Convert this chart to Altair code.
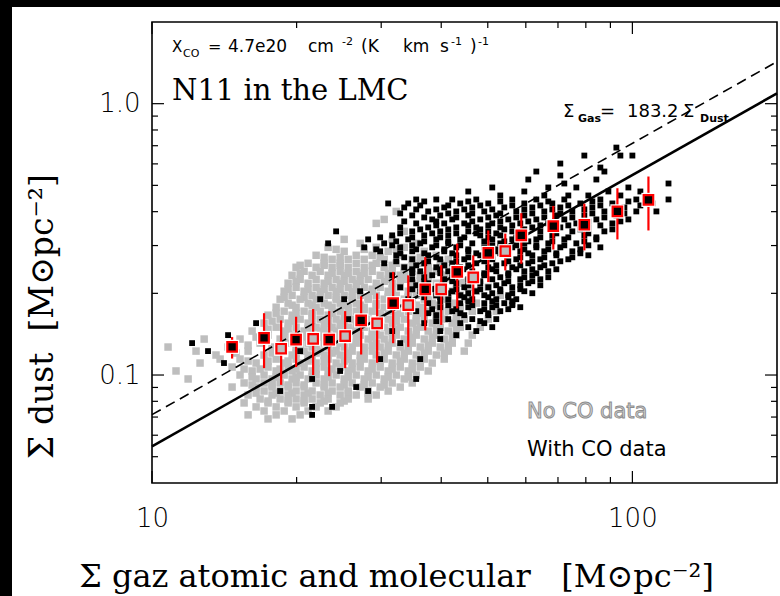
import altair as alt
import pandas as pd

# ---------------- data ----------------
GAS_TO_DUST = 183.2          # solid line: Sigma_gas = 183.2 Sigma_dust
GAS_TO_DUST_DASHED = 140.0   # dashed reference line
line_gas = [10.0, 200.0]

# scatter: pixels without CO data (grey); rows of (dust, [gas values])
grey_rows = [
    (0.4008, [32.24]),
    (0.3745, [30.43]),
    (0.3621, [29.29]),
    (0.3384, [33.50]),
    (0.3162, [25.12, 31.62]),
    (0.3057, [27.12, 35.48]),
    (0.2955, [23.26, 29.29, 33.50]),
    (0.2905, [24.17, 27.65, 32.24]),
    (0.2857, [25.12, 31.02, 36.87]),
    (0.2762, [21.96, 26.61, 28.73, 32.86, 39.06]),
    (0.2715, [22.82, 24.64, 29.85, 36.17]),
    (0.2670, [23.71, 25.61, 27.65, 30.43, 34.81, 41.37]),
    (0.2581, [21.13, 22.82, 24.64, 26.61, 29.29, 32.24, 36.17, 39.81]),
    (0.2537, [20.34, 22.82, 24.64, 28.73, 31.62, 34.81, 40.58]),
    (0.2495, [19.95, 21.96, 23.71, 25.61, 27.65, 30.43, 33.50, 37.58, 42.17]),
    (0.2412, [20.73, 22.39, 24.64, 26.61, 28.73, 31.62, 34.81, 39.06, 43.82]),
    (0.2372, [20.34, 23.71, 25.61, 27.65, 31.02, 33.50, 37.58, 42.17]),
    (0.2332, [19.57, 21.54, 23.26, 25.12, 27.12, 29.85, 32.86, 36.17, 40.58]),
    (0.2254, [20.34, 21.96, 24.17, 26.10, 28.18, 31.02, 33.50, 37.58, 42.17, 46.42]),
    (0.2216, [19.95, 23.26, 25.12, 27.12, 30.43, 32.86, 36.17, 40.58, 44.67]),
    (0.2179, [19.20, 21.13, 22.82, 24.64, 26.61, 29.29, 31.62, 34.81, 39.06, 43.82]),
    (0.2106, [19.95, 21.96, 23.71, 25.61, 27.65, 29.85, 32.86, 36.17, 40.58, 45.54, 50.12]),
    (0.2071, [19.20, 21.13, 22.82, 24.64, 26.61, 28.73, 31.62, 34.81, 39.06, 42.99]),
    (0.2036, [18.84, 20.73, 22.39, 24.17, 26.10, 28.73, 31.02, 34.15, 37.58, 42.17, 47.32]),
    (0.1968, [19.57, 21.54, 23.26, 25.12, 27.12, 29.29, 32.24, 35.48, 39.06, 43.82, 53.09]),
    (0.1935, [18.84, 20.73, 22.39, 24.17, 26.10, 28.18, 31.02, 34.15, 37.58, 41.37]),
    (0.1903, [18.48, 20.34, 21.96, 24.17, 26.10, 28.18, 30.43, 33.50, 36.87, 40.58, 45.54]),
    (0.1840, [19.20, 21.13, 22.82, 24.64, 26.61, 29.29, 31.62, 34.81, 38.31, 42.17, 47.32, 56.23]),
    (0.1809, [19.57, 21.54, 23.26, 25.12, 27.12, 29.29, 32.24, 35.48, 39.06, 42.99]),
    (0.1778, [18.13, 19.95, 21.96, 23.71, 25.61, 27.65, 30.43, 32.86, 36.17, 39.81, 43.82]),
    (0.1719, [18.84, 20.73, 22.39, 24.64, 26.61, 28.73, 31.02, 34.15, 37.58, 41.37, 46.42, 52.08]),
    (0.1690, [18.13, 19.95, 21.54, 23.71, 25.61, 27.65, 29.85, 32.86, 36.17, 39.81, 43.82]),
    (0.1662, [17.44, 19.57, 21.54, 23.26, 25.12, 27.12, 29.85, 32.24, 35.48, 39.06, 42.99]),
    (0.1607, [18.48, 20.34, 22.39, 24.17, 26.10, 28.18, 31.02, 33.50, 36.87, 40.58, 44.67, 50.12]),
    (0.1580, [17.78, 19.57, 21.54, 23.26, 25.12, 27.12, 29.85, 32.24, 35.48, 39.06, 42.99]),
    (0.1553, [17.11, 19.20, 21.13, 22.82, 24.64, 26.61, 29.29, 31.62, 34.81, 38.31, 42.17]),
    (0.1501, [18.13, 19.95, 21.96, 23.71, 25.61, 27.65, 30.43, 32.86, 36.17, 39.81, 43.82, 48.23]),
    (0.1476, [17.44, 19.20, 21.13, 22.82, 24.64, 26.61, 29.29, 32.24, 35.48, 39.06, 42.99]),
    (0.1452, [16.16, 18.84, 20.73, 22.39, 24.17, 26.10, 28.73, 31.02, 34.15, 37.58, 41.37]),
    (0.1403, [17.44, 19.57, 21.54, 23.26, 25.12, 27.12, 29.85, 32.24, 35.48, 39.06, 42.99, 46.42]),
    (0.1380, [16.47, 18.84, 20.73, 22.39, 24.17, 26.61, 28.73, 31.62, 34.81, 38.31, 42.17]),
    (0.1357, [12.84, 15.25, 18.48, 20.34, 21.96, 23.71, 25.61, 28.18, 30.43, 33.50, 36.87, 40.58]),
    (0.1311, [16.79, 19.20, 21.13, 22.82, 24.64, 26.61, 29.29, 31.62, 34.81, 38.31, 42.17, 45.54]),
    (0.1289, [15.85, 18.48, 20.34, 21.96, 24.17, 26.10, 28.73, 31.02, 34.15, 37.58, 41.37]),
    (0.1268, [10.80, 14.40, 17.78, 19.95, 21.54, 23.26, 25.12, 27.65, 29.85, 32.86, 36.17, 39.81]),
    (0.1225, [12.35, 15.85, 18.84, 20.73, 22.39, 24.17, 26.10, 28.73, 31.02, 34.15, 37.58, 41.37, 44.67]),
    (0.1205, [14.96, 17.78, 19.95, 21.96, 23.71, 25.61, 27.65, 30.43, 33.50, 36.87, 40.58]),
    (0.1185, [13.59, 17.11, 19.57, 21.13, 22.82, 24.64, 27.12, 29.29, 32.24, 35.48, 39.06]),
    (0.1145, [13.86, 15.25, 18.13, 19.95, 21.54, 23.26, 25.61, 27.65, 30.43, 33.50, 36.87, 40.58]),
    (0.1126, [15.85, 17.44, 19.20, 21.13, 22.82, 25.12, 27.12, 29.85, 32.86, 36.17]),
    (0.1107, [12.59, 16.47, 18.84, 20.34, 21.96, 24.17, 26.10, 28.73, 31.62, 34.81, 38.31]),
    (0.1070, [14.68, 17.44, 19.20, 20.73, 22.82, 24.64, 27.12, 29.85, 32.86, 36.17]),
    (0.1052, [15.55, 16.79, 18.48, 19.95, 21.96, 23.71, 26.10, 28.73, 31.62, 34.81]),
    (0.1035, [11.22, 16.16, 18.13, 19.57, 21.54, 23.26, 25.61, 28.18, 31.02, 34.15, 37.58]),
    (0.1000, [15.25, 17.11, 18.84, 20.34, 21.96, 24.17, 26.61, 29.29, 32.24, 35.48]),
    (0.0983, [16.16, 18.13, 19.95, 21.54, 23.26, 25.61, 28.18, 31.02, 34.15]),
    (0.0967, [11.89, 16.47, 17.78, 19.57, 21.13, 22.82, 25.12, 27.65, 30.43, 33.50]),
    (0.0935, [15.55, 17.11, 18.48, 19.95, 21.96, 23.71, 26.10, 28.73, 31.62, 34.81]),
    (0.0919, [16.16, 17.78, 19.20, 20.73, 22.82, 25.12, 27.65, 30.43]),
    (0.0903, [14.68, 16.47, 17.78, 19.20, 20.73, 22.82, 24.64, 27.12, 29.85, 32.86]),
    (0.0873, [17.11, 18.48, 19.95, 21.54, 23.71, 25.61, 28.18, 31.02]),
    (0.0858, [16.47, 18.13, 19.57, 21.13, 23.26, 25.61, 28.18]),
    (0.0844, [15.85, 17.78, 19.20, 20.73, 22.39, 24.64, 26.61, 29.29]),
    (0.0816, [16.79, 18.48, 19.95, 21.54, 23.26, 25.61, 28.18]),
    (0.0802, [17.44, 19.20, 20.73, 22.82, 25.12]),
    (0.0789, [15.55, 17.44, 19.20, 20.73, 22.39, 24.64]),
    (0.0763, [16.47, 18.13, 19.95, 21.96, 24.17]),
    (0.0737, [17.11, 18.84, 21.13, 23.26]),
    (0.0713, [15.85, 18.13, 20.34]),
    (0.0689, [17.44, 19.57]),
]

# scatter: pixels with CO data (black); rows of (dust, [gas values])
black_rows = [
    (0.6890, [92.61]),
    (0.6439, [79.43, 94.41, 100.0]),
    (0.6017, [70.79]),
    (0.5817, [85.77]),
    (0.5623, [63.10, 87.44]),
    (0.5436, [70.79]),
    (0.5255, [60.72, 84.14]),
    (0.5080, [72.16, 118.9]),
    (0.4911, [51.09, 66.83, 76.44, 98.10]),
    (0.4747, [45.54, 59.57, 89.13, 103.9]),
    (0.4589, [53.09, 65.56, 73.56, 80.97, 94.41]),
    (0.4436, [35.48, 39.06, 42.17, 47.32, 56.23, 63.10, 72.16, 85.77, 101.9, 118.9]),
    (0.4362, [36.87, 45.54, 53.09, 66.83, 82.54, 98.10]),
    (0.4289, [31.02, 34.15, 43.82, 50.12, 59.57, 68.13, 77.92, 90.85, 110.1]),
    (0.4217, [36.17, 41.37, 48.23, 56.23, 64.32, 73.56, 85.77, 103.9]),
    (0.4146, [33.50, 40.58, 46.42, 54.12, 61.90, 70.79, 82.54, 96.24]),
    (0.4077, [35.48, 39.06, 44.67, 51.09, 59.57, 68.13, 79.43, 92.61]),
    (0.4008, [37.58, 42.99, 49.17, 57.32, 65.56, 74.99, 87.44, 101.9, 112.2]),
    (0.3941, [32.86, 41.37, 46.42, 53.09, 61.90, 70.79, 82.54, 96.24]),
    (0.3874, [34.81, 39.81, 45.54, 52.08, 59.57, 69.45, 79.43, 92.61]),
    (0.3809, [36.87, 42.99, 50.12, 57.32, 65.56, 74.99, 87.44]),
    (0.3745, [38.31, 42.17, 48.23, 55.17, 63.10, 72.16, 84.14, 98.10]),
    (0.3683, [33.50, 39.06, 46.42, 53.09, 60.72, 69.45, 80.97, 94.41]),
    (0.3621, [35.48, 40.58, 44.67, 51.09, 58.43, 66.83, 76.44, 90.85]),
    (0.3560, [39.06, 45.54, 50.12, 56.23, 64.32, 73.56, 85.77]),
    (0.3500, [32.86, 37.58, 42.99, 47.32, 53.09, 61.90, 70.79, 80.97]),
    (0.3442, [36.17, 41.37, 48.23, 54.12, 59.57, 68.13, 77.92, 90.85]),
    (0.3384, [24.17, 34.81, 39.81, 45.54, 50.12, 56.23, 64.32, 74.99, 87.44]),
    (0.3327, [32.86, 38.31, 42.99, 47.32, 52.08, 59.57, 69.45, 80.97]),
    (0.3271, [31.62, 36.87, 41.37, 48.23, 53.09, 59.57, 68.13, 79.43]),
    (0.3216, [29.85, 34.81, 39.81, 44.67, 50.12, 57.32, 64.32, 73.56, 84.14]),
    (0.3162, [28.18, 34.15, 39.06, 43.82, 51.09, 56.23, 63.10, 72.16, 84.14]),
    (0.3109, [32.24, 36.87, 41.37, 49.17, 54.12, 60.72, 68.13, 79.43]),
    (0.3057, [23.26, 30.43, 36.17, 41.37, 46.42, 53.09, 59.57, 66.83, 76.44]),
    (0.3006, [31.62, 34.81, 39.06, 43.82, 51.09, 57.32, 63.10, 72.16, 80.97]),
    (0.2955, [27.65, 32.86, 38.31, 42.99, 49.17, 56.23, 63.10, 70.79, 85.77]),
    (0.2905, [29.29, 35.48, 40.58, 45.54, 52.08, 59.57, 66.83, 77.92]),
    (0.2857, [29.85, 34.81, 40.58, 45.54, 52.08, 58.43, 65.56, 74.99]),
    (0.2809, [32.86, 36.87, 42.17, 47.32, 53.09, 60.72, 69.45, 77.92]),
    (0.2762, [32.24, 37.58, 42.99, 48.23, 55.17, 61.90, 69.45, 80.97]),
    (0.2715, [33.50, 39.06, 45.54, 51.09, 58.43, 65.56, 74.99]),
    (0.2670, [34.81, 39.81, 44.67, 51.09, 57.32, 64.32, 73.56]),
    (0.2625, [32.24, 37.58, 42.99, 49.17, 55.17, 61.90, 70.79]),
    (0.2581, [30.43, 36.87, 42.17, 47.32, 54.12, 60.72, 68.13]),
    (0.2537, [35.48, 40.58, 45.54, 52.08, 58.43, 65.56]),
    (0.2495, [33.50, 39.06, 43.82, 50.12, 56.23, 64.32]),
    (0.2453, [34.81, 39.81, 44.67, 51.09, 57.32, 61.90, 69.45]),
    (0.2412, [36.17, 41.37, 46.42, 52.08, 59.57, 66.83]),
    (0.2372, [34.81, 39.81, 43.82, 49.17, 55.17, 63.10]),
    (0.2332, [31.62, 38.31, 43.82, 49.17, 55.17, 61.90]),
    (0.2293, [36.87, 42.17, 47.32, 53.09, 59.57, 66.83]),
    (0.2254, [34.81, 40.58, 45.54, 51.09, 58.43, 64.32]),
    (0.2216, [36.87, 42.17, 48.23, 55.17, 61.90]),
    (0.2179, [37.58, 42.99, 48.23, 54.12, 60.72]),
    (0.2142, [35.48, 40.58, 45.54, 52.08, 58.43, 64.32]),
    (0.2106, [32.86, 39.81, 44.67, 50.12, 56.23]),
    (0.2071, [34.81, 38.31, 42.99, 48.23, 53.09, 58.43]),
    (0.2036, [27.12, 36.17, 42.17, 47.32, 53.09, 59.57]),
    (0.2002, [37.58, 41.37, 45.54, 51.09, 56.23, 61.90]),
    (0.1968, [39.06, 43.82, 49.17, 55.17]),
    (0.1935, [36.87, 39.81, 44.67, 50.12, 55.17]),
    (0.1903, [22.39, 25.12, 34.15, 41.37, 46.42, 52.08, 57.32]),
    (0.1871, [39.81, 45.54, 51.09, 56.23]),
    (0.1840, [37.58, 43.82, 49.17, 54.12]),
    (0.1809, [41.37, 46.42, 52.08, 56.23]),
    (0.1778, [39.81, 45.54, 51.09, 58.43]),
    (0.1748, [38.31, 42.99, 49.17, 55.17]),
    (0.1719, [35.48, 42.17, 48.23, 53.09]),
    (0.1690, [37.58, 43.82, 50.12]),
    (0.1662, [39.06, 44.67, 50.12]),
    (0.1607, [25.61, 41.37, 46.42, 52.08]),
    (0.1580, [39.06, 48.23]),
    (0.1553, [16.47, 36.87, 43.82, 49.17]),
    (0.1501, [45.54, 51.09]),
    (0.1452, [31.62, 39.81, 47.32]),
    (0.1403, [14.40, 42.99]),
    (0.1357, [17.44, 39.81]),
    (0.1311, [12.12, 32.86]),
    (0.1225, [13.08, 20.34]),
    (0.1145, [29.85, 36.17]),
    (0.1107, [14.12]),
    (0.1035, [24.64]),
    (0.0967, [21.54, 35.48]),
    (0.0903, [26.61]),
    (0.0873, [18.48, 28.18]),
    (0.0763, [21.54, 23.71]),
    (0.0713, [21.54]),
]

# binned means with CO data (black squares)
co_bin_gas = [14.68, 17.11, 19.95, 23.38, 27.25, 31.77, 37.05, 43.19, 50.12, 58.71, 68.45, 79.43, 93.07, 108.0]
co_bin_dust = [0.127, 0.137, 0.135, 0.135, 0.159, 0.184, 0.207, 0.240, 0.282, 0.327, 0.354, 0.358, 0.401, 0.442]
co_bin_lo = [0.115, 0.106, 0.107, 0.099, 0.119, 0.131, 0.146, 0.176, 0.220, 0.257, 0.290, 0.288, 0.316, 0.341]
co_bin_hi = [0.138, 0.169, 0.164, 0.172, 0.195, 0.240, 0.272, 0.305, 0.341, 0.395, 0.420, 0.428, 0.488, 0.539]

# binned means without CO data (grey squares)
noco_bin_gas = [18.57, 21.65, 25.24, 29.42, 34.15, 40.0, 46.64, 54.38]
noco_bin_dust = [0.125, 0.136, 0.139, 0.155, 0.181, 0.207, 0.229, 0.286]
noco_bin_lo = [0.092, 0.100, 0.106, 0.111, 0.127, 0.153, 0.184, 0.243]
noco_bin_hi = [0.159, 0.175, 0.172, 0.200, 0.233, 0.254, 0.276, 0.332]

# axis ticks
x_major = [10, 100]
x_minor = [20, 30, 40, 50, 60, 70, 80, 90]
y_major = [0.1, 1.0]
y_minor = [0.05, 0.06, 0.07, 0.08, 0.09, 0.2, 0.3, 0.4, 0.5, 0.6, 0.7, 0.8, 0.9]

# ---------------- chart ----------------
W, H = 625, 461
GREY = "#bebebe"
SANS = "DejaVu Sans"
SERIF = "DejaVu Serif"

grey_df = pd.DataFrame([(g, d) for d, gs in grey_rows for g in gs], columns=["gas", "dust"])
black_df = pd.DataFrame([(g, d) for d, gs in black_rows for g in gs], columns=["gas", "dust"])
co_df = pd.DataFrame({"gas": co_bin_gas, "dust": co_bin_dust, "lo": co_bin_lo, "hi": co_bin_hi})
noco_df = pd.DataFrame({"gas": noco_bin_gas, "dust": noco_bin_dust, "lo": noco_bin_lo, "hi": noco_bin_hi})
solid_df = pd.DataFrame({"gas": line_gas, "dust": [g / GAS_TO_DUST for g in line_gas]})
dash_df = pd.DataFrame({"gas": line_gas, "dust": [g / GAS_TO_DUST_DASHED for g in line_gas]})

xscale = alt.Scale(type="log", domain=[10, 200], nice=False)
yscale = alt.Scale(type="log", domain=[0.04, 2.0], nice=False)

x_axis = alt.Axis(
    values=x_major, format="d", ticks=False, domain=False, grid=False, zindex=2,
    labelFont=SANS, labelFontWeight=200, labelFontSize=26, labelColor="black",
    labelPadding=22, labelFlush=False,
    title="Σ gaz atomic and molecular\u00a0\u00a0\u00a0[M⊙pc⁻²]",
    titleFont=SERIF, titleFontSize=32, titleFontWeight="normal", titleColor="black",
    titleX=244, titleY=103, titleAlign="center", titleBaseline="alphabetic",
)
y_axis = alt.Axis(
    values=y_major, format=".1f", ticks=False, domain=False, grid=False, zindex=2,
    labelFont=SANS, labelFontWeight=200, labelFontSize=26, labelColor="black",
    labelPadding=12, labelFlush=False,
    title="Σ dust\u00a0\u00a0[M⊙pc⁻²]",
    titleFont=SERIF, titleFontSize=33, titleFontWeight="normal", titleColor="black",
    titleX=-100, titleY=294, titleAngle=270, titleAlign="center", titleBaseline="alphabetic",
)


def X(field):
    return alt.X(f"{field}:Q", scale=xscale, axis=x_axis)


def Y(field):
    return alt.Y(f"{field}:Q", scale=yscale, axis=y_axis)


one = pd.DataFrame({"k": [0]})

# black page margins (left strip and top strip)
left_strip = alt.Chart(one).mark_rect(color="black").encode(
    x=alt.value(-152), x2=alt.value(-140), y=alt.value(-22), y2=alt.value(H + 113))
top_strip = alt.Chart(one).mark_rect(color="black").encode(
    x=alt.value(-152), x2=alt.value(W + 3), y=alt.value(-22), y2=alt.value(-15))

grey_pts = alt.Chart(grey_df).mark_square(size=56, color=GREY, opacity=1).encode(x=X("gas"), y=Y("dust"))
black_pts = alt.Chart(black_df).mark_square(size=34, color="black", opacity=1).encode(x=X("gas"), y=Y("dust"))

solid_line = alt.Chart(solid_df).mark_line(color="black", strokeWidth=2.6).encode(x=X("gas"), y=Y("dust"))
dash_line = alt.Chart(dash_df).mark_line(color="black", strokeWidth=1.6, strokeDash=[10, 6]).encode(
    x=X("gas"), y=Y("dust"))


def bins(df, fill):
    err = alt.Chart(df).mark_rule(color="#ff0000", strokeWidth=2.2).encode(
        x=X("gas"), y=Y("lo"), y2=alt.Y2("hi:Q"))
    halo = alt.Chart(df).mark_square(size=200, color="white", opacity=1).encode(x=X("gas"), y=Y("dust"))
    sq = alt.Chart(df).mark_square(size=90, fill=fill, stroke="#ff0000", strokeWidth=2.2, opacity=1).encode(
        x=X("gas"), y=Y("dust"))
    return [err, halo, sq]


def rules_x(vals, length, top):
    df = pd.DataFrame({"v": vals})
    if top:
        return alt.Chart(df).mark_rule(color="black", strokeWidth=1.2).encode(
            x=alt.X("v:Q", scale=xscale, axis=x_axis), y=alt.value(0), y2=alt.value(length))
    return alt.Chart(df).mark_rule(color="black", strokeWidth=1.2).encode(
        x=alt.X("v:Q", scale=xscale, axis=x_axis), y=alt.value(H), y2=alt.value(H - length))


def rules_y(vals, length, right):
    df = pd.DataFrame({"v": vals})
    if right:
        return alt.Chart(df).mark_rule(color="black", strokeWidth=1.2).encode(
            y=alt.Y("v:Q", scale=yscale, axis=y_axis), x=alt.value(W), x2=alt.value(W - length))
    return alt.Chart(df).mark_rule(color="black", strokeWidth=1.2).encode(
        y=alt.Y("v:Q", scale=yscale, axis=y_axis), x=alt.value(0), x2=alt.value(length))


ticks = [
    rules_x(x_major, 12, False), rules_x(x_minor, 6, False),
    rules_x(x_major, 12, True), rules_x(x_minor, 6, True),
    rules_y(y_major, 12, False), rules_y(y_minor, 6, False),
    rules_y(y_major, 12, True), rules_y(y_minor, 6, True),
]


def txt(s, x, y, size, font=SANS, color="black", align="left", baseline="alphabetic", **kw):
    return alt.Chart(pd.DataFrame({"t": [s]})).mark_text(
        font=font, fontSize=size, color=color, align=align, baseline=baseline, **kw
    ).encode(x=alt.value(x), y=alt.value(y), text="t:N")


labels = [
    # X_CO = 4.7e20 cm^-2 (K km s^-1)^-1
    txt("X", 20, 30, 15),
    txt("CO", 31, 35, 11),
    txt("=", 56, 30, 16),
    txt("4.7e20", 76, 30, 17),
    txt("cm", 156, 30, 17),
    txt("-2", 190, 23, 11),
    txt("(K", 209, 30, 17),
    txt("km", 251, 30, 17),
    txt("s", 288, 30, 17),
    txt("-1", 299, 23, 11),
    txt(")", 318, 30, 17),
    txt("-1", 326, 23, 11),
    # field name
    txt("N11 in the LMC", 20, 78, 29, font=SERIF),
    # line label
    txt("Σ", 411, 95, 18),
    txt("Gas", 426, 100, 11, fontWeight="bold"),
    txt("=", 448, 95, 18),
    txt("183.2", 475, 95, 18),
    txt("Σ", 531, 95, 18),
    txt("Dust", 548, 100, 11, fontWeight="bold"),
    # legend texts
    txt("No CO data", 375, 390, 21, color="#d2d2d2", baseline="middle", stroke="#8c8c8c", strokeWidth=0.9),
    txt("With CO data", 375, 428, 21, baseline="middle"),
]

layers = [left_strip, top_strip, grey_pts, black_pts, dash_line, solid_line]
layers += bins(noco_df, GREY) + bins(co_df, "black")
layers += ticks + labels

chart = alt.layer(*layers).properties(
    width=W, height=H,
    autosize=alt.AutoSizeParams(type="none"),
    padding={"left": 152, "top": 22, "right": 3, "bottom": 113},
    background="white",
).configure_view(stroke="black", strokeWidth=1.6)

chart.save("out.html", embed_options={"renderer": "svg", "actions": False})
